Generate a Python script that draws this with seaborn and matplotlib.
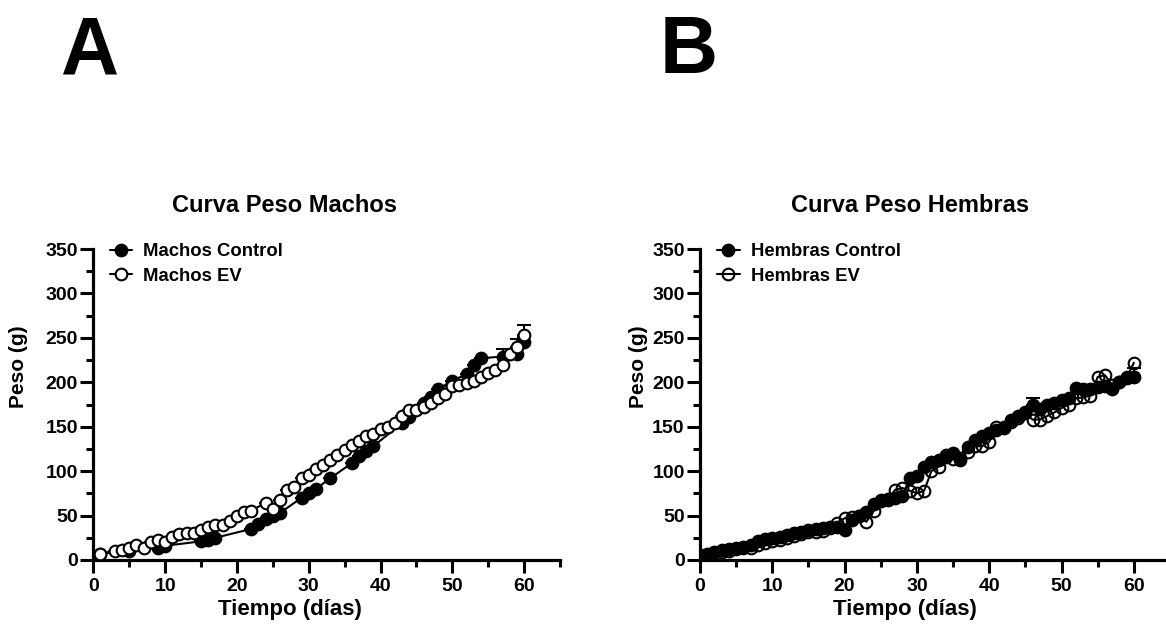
import matplotlib
matplotlib.use("Agg")
import matplotlib.pyplot as plt
import seaborn as sns
import numpy as np
import pandas as pd
from matplotlib.ticker import MultipleLocator

# ---------------- data ----------------
machos_ctrl_dias = [1, 5, 9, 10, 15, 16, 17, 22, 23, 24, 25, 26, 29, 30, 31, 33, 36, 37, 38, 39,
                    43, 44, 46, 47, 48, 50, 52, 53, 54, 57, 59, 60]
machos_ctrl_peso = [7, 10, 14, 16, 21, 23, 25, 35, 41, 46, 50, 53, 70, 75, 80, 92, 109, 117, 123, 128,
                    154, 161, 177, 184, 192, 202, 209, 220, 227, 229, 232, 245]
machos_ctrl_err = [0] * 29 + [8, 8, 6]

machos_ev_dias = [1, 3, 4, 5, 6, 7, 8, 9, 10, 11, 12, 13, 14, 15, 16, 17, 18, 19, 20, 21, 22,
                  24, 25, 26, 27, 28, 29, 30, 31, 32, 33, 34, 35, 36, 37, 38, 39, 40, 41, 42,
                  43, 44, 45, 46, 47, 48, 49, 50, 51, 52, 53, 54, 55, 56, 57, 58, 59, 60]
machos_ev_peso = [7, 10.5, 11, 13, 17, 14, 20.5, 22.5, 20.5, 26, 29, 30.5, 30, 34, 37.5, 39, 39, 44,
                  49, 54, 55.5, 64.5, 57, 68, 79, 82.5, 92, 95.5, 102, 107, 112, 118, 124, 129,
                  134, 139, 142, 147, 150, 154.5, 162, 169, 169, 172.5, 177, 182, 186.5, 196,
                  197, 199, 201, 205.5, 211, 214, 219.5, 232, 239.5, 253]
machos_ev_err = [0] * 56 + [9, 11]

hembras_dias = list(range(0, 61))
hembras_ctrl_peso = [6, 7, 9, 11, 12, 14, 15, 17, 21, 24, 25, 26, 28, 30, 32, 34, 35, 36, 37, 37,
                     34, 45, 50, 54, 63, 66, 68, 70, 72, 92, 94, 105, 110, 112, 116, 120, 112, 127,
                     135, 140, 143, 146, 149, 157, 162, 167, 174, 170, 174, 177, 180, 182, 194,
                     193, 193, 195, 196, 193, 200, 206, 206]
hembras_ev_peso = [5, 6, 8, 9, 10, 12, 13, 14, 17, 19, 21, 23, 25, 27, 29, 31, 32, 33, 36, 42,
                   47, 48, 49, 43, 55, 68, 69, 79, 81, 78, 75, 78, 100, 105, 118, 114, 115, 122,
                   128, 128, 133, 150, 150, 155, 160, 165, 158, 158, 162, 166, 171, 175, 182, 183,
                   185, 206, 208, 197, 200, 205, 222]
hembras_ctrl_err_dias = [46, 60]
hembras_ctrl_err_peso = [174, 206]
hembras_ctrl_err = [8, 10]

# ---------------- style ----------------
sns.set_style("white")
plt.rcParams['font.family'] = ['Liberation Sans', 'DejaVu Sans']
plt.rcParams['font.weight'] = 'bold'
for k in ['text.color', 'axes.labelcolor', 'xtick.color', 'ytick.color', 'axes.edgecolor']:
    plt.rcParams[k] = 'black'

W, H = 1166, 641
fig = plt.figure(figsize=(W / 100, H / 100), dpi=100)


def px_ax(x0, x1, y0, y1):
    return [x0 / W, 1 - y1 / H, (x1 - x0) / W, (y1 - y0) / H]


axL = fig.add_axes(px_ax(93.3, 560, 249, 560))
axR = fig.add_axes(px_ax(700, 1170, 249, 560))

ms = 8.4
mew = 1.5
lw = 1.5


def style_axis(ax):
    ax.set_xlim(0, 65)
    ax.set_ylim(0, 350)
    for s in ['top', 'right']:
        ax.spines[s].set_visible(False)
    for s in ['left', 'bottom']:
        ax.spines[s].set_linewidth(2.3)
        ax.spines[s].set_color('black')
    ax.xaxis.set_major_locator(MultipleLocator(10))
    ax.xaxis.set_minor_locator(MultipleLocator(5))
    ax.yaxis.set_major_locator(MultipleLocator(50))
    ax.yaxis.set_minor_locator(MultipleLocator(25))
    ax.tick_params(which='major', direction='out', length=9.5, width=2.2, labelsize=14,
                   color='black', labelcolor='black', bottom=True, left=True)
    ax.tick_params(which='minor', direction='out', length=5, width=2.2, color='black',
                   bottom=True, left=True)
    ax.tick_params(axis='y', which='major', pad=1.5)
    ax.tick_params(axis='x', which='major', pad=3.5)
    for t in ax.get_xticklabels() + ax.get_yticklabels():
        t.set_fontweight('bold')
    ax.set_xlabel('')
    ax.set_ylabel('')
    ax.grid(False)


# ---------------- left panel ----------------
dfLc = pd.DataFrame({'dias': machos_ctrl_dias, 'peso': machos_ctrl_peso})
dfLe = pd.DataFrame({'dias': machos_ev_dias, 'peso': machos_ev_peso})
sns.lineplot(data=dfLc, x='dias', y='peso', ax=axL, color='black', linewidth=lw, marker='o',
             markersize=ms, markerfacecolor='black', markeredgecolor='black',
             markeredgewidth=mew, label='Machos Control', zorder=3)
sns.lineplot(data=dfLe, x='dias', y='peso', ax=axL, color='black', linewidth=lw, marker='o',
             markersize=ms, markerfacecolor='white', markeredgecolor='black',
             markeredgewidth=mew, label='Machos EV', zorder=4)
axL.errorbar(machos_ctrl_dias, machos_ctrl_peso,
             yerr=[np.zeros(len(machos_ctrl_err)), machos_ctrl_err],
             fmt='none', ecolor='black', elinewidth=1.5, capsize=5, capthick=1.5, zorder=2)
axL.errorbar(machos_ev_dias, machos_ev_peso,
             yerr=[np.zeros(len(machos_ev_err)), machos_ev_err],
             fmt='none', ecolor='black', elinewidth=1.5, capsize=5, capthick=1.5, zorder=2)
style_axis(axL)

# ---------------- right panel ----------------
dfRc = pd.DataFrame({'dias': hembras_dias, 'peso': hembras_ctrl_peso})
dfRe = pd.DataFrame({'dias': hembras_dias, 'peso': hembras_ev_peso})
sns.lineplot(data=dfRc, x='dias', y='peso', ax=axR, color='black', linewidth=lw, marker='o',
             markersize=ms, markerfacecolor='black', markeredgecolor='black',
             markeredgewidth=mew, label='Hembras Control', zorder=3)
sns.lineplot(data=dfRe, x='dias', y='peso', ax=axR, color='black', linewidth=lw, marker='o',
             markersize=ms, markerfacecolor='none', markeredgecolor='black',
             markeredgewidth=mew, label='Hembras EV', zorder=4)
axR.errorbar(hembras_ctrl_err_dias, hembras_ctrl_err_peso,
             yerr=[np.zeros(len(hembras_ctrl_err)), hembras_ctrl_err],
             fmt='none', ecolor='black', elinewidth=1.5, capsize=5, capthick=1.5, zorder=2)
style_axis(axR)

# legends
for ax, x_anchor in ((axL, 0.036), (axR, 0.037)):
    leg = ax.legend(loc='upper left', bbox_to_anchor=(x_anchor, 1.018), frameon=False,
                    fontsize=13.3, handlelength=1.2, handletextpad=0.6, labelspacing=0.4,
                    borderpad=0, borderaxespad=0)
    for t in leg.get_texts():
        t.set_fontweight('bold')
        t.set_color('black')

# ---------------- texts ----------------
fig.text(284 / W, 1 - 205 / H, 'Curva Peso Machos', ha='center', va='center',
         fontsize=17, fontweight='bold')
fig.text(910 / W, 1 - 205 / H, 'Curva Peso Hembras', ha='center', va='center',
         fontsize=17, fontweight='bold')
fig.text(290 / W, 1 - 609 / H, 'Tiempo (días)', ha='center', va='center',
         fontsize=16, fontweight='bold')
fig.text(905 / W, 1 - 609 / H, 'Tiempo (días)', ha='center', va='center',
         fontsize=16, fontweight='bold')
fig.text(18 / W, 1 - 367 / H, 'Peso (g)', ha='center', va='center', rotation=90,
         fontsize=15, fontweight='bold')
fig.text(638 / W, 1 - 367 / H, 'Peso (g)', ha='center', va='center', rotation=90,
         fontsize=15, fontweight='bold')
fig.text(90 / W, 1 - 52 / H, 'A', ha='center', va='center', fontsize=58, fontweight='bold')
fig.text(689 / W, 1 - 52 / H, 'B', ha='center', va='center', fontsize=58, fontweight='bold')

fig.savefig('out.png', dpi=100)
